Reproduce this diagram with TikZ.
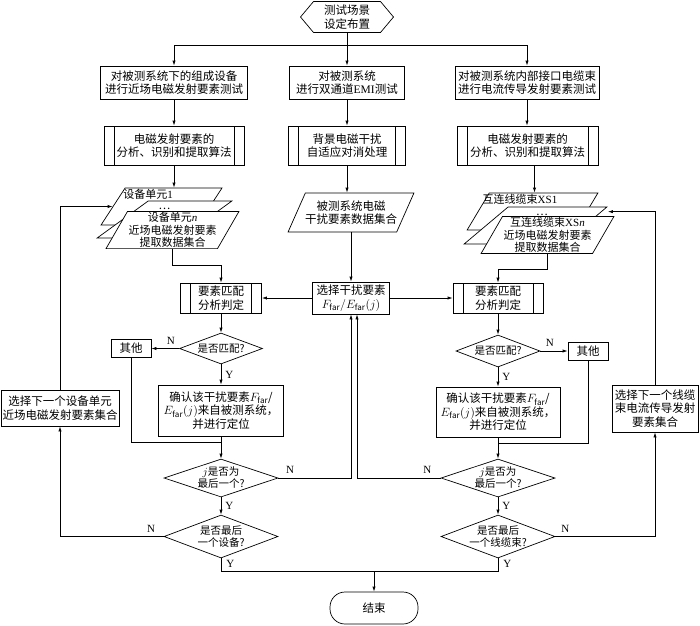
\documentclass[tikz,border=0pt]{standalone}
\usepackage{fontspec}
\setmainfont{Noto Sans CJK SC}
\newfontfamily\lat{Liberation Serif}
\usetikzlibrary{arrows.meta,shapes.geometric,shapes.symbols}

\begin{document}
\begin{tikzpicture}[x=1pt, y=-1pt, line width=0.7pt,
    font=\fontsize{11.5}{13.5}\selectfont,
    box/.style={draw, rectangle, fill=white, align=center, inner sep=1pt},
    proc/.style={box, path picture={
        \draw ([xshift=10pt]path picture bounding box.north west) -- ([xshift=10pt]path picture bounding box.south west)
              ([xshift=-10pt]path picture bounding box.north east) -- ([xshift=-10pt]path picture bounding box.south east);}},
    data/.style={draw, fill=white, trapezium, trapezium left angle=60, trapezium right angle=120,
        trapezium stretches=true, align=center, inner xsep=1pt, inner ysep=1pt,
        font=\fontsize{11}{12.5}\selectfont},
    sheet/.style={data, text height=9pt, text depth=26pt, inner xsep=-6pt},
    dots/.style={data, text height=7pt, text depth=28pt},
    ask/.style={draw, diamond, fill=white, aspect=2.6, inner sep=-3pt, align=center,
        font=\fontsize{10.5}{12}\selectfont},
    arr/.style={-{Latex[length=5pt,width=3.2pt]}},
    yn/.style={font=\lat\fontsize{11}{12}\selectfont, inner sep=1pt}]

\useasboundingbox (0,0) rectangle (700,625);

% Start of the test
\node[draw, fill=white, signal, signal to=east and west, signal pointer angle=100,
      minimum width=93pt, minimum height=31pt, align=center, inner sep=0pt] (st) at (347,17) {测试场景\\设定布置};
\coordinate (top) at (347,45);

% Three test branches
\node[box, minimum width=147pt, minimum height=33pt] (t1) at (174,82.5) {对被测系统下的组成设备\\进行近场电磁发射要素测试};
\node[box, minimum width=115pt, minimum height=33pt] (t2) at (347,82.5) {对被测系统\\进行双通道{\lat EMI}测试};
\node[box, minimum width=144pt, minimum height=33pt] (t3) at (527,82.5) {对被测系统内部接口电缆束\\进行电流传导发射要素测试};

\node[proc, minimum width=140pt, minimum height=39pt] (p1) at (174,145.5) {电磁发射要素的\\分析、识别和提取算法};
\node[proc, minimum width=117pt, minimum height=39pt] (p2) at (347,145.5) {背景电磁干扰\\自适应对消处理};
\node[proc, minimum width=141pt, minimum height=39pt] (p3) at (527.5,145.5) {电磁发射要素的\\分析、识别和提取算法};

% Data sets (stacked on the sides)
\node[data, minimum width=126pt, minimum height=39pt, inner xsep=-6pt,
      font=\fontsize{11.5}{13.5}\selectfont] (d2) at (351,212.5) {被测系统电磁\\干扰要素数据集合};

\node[sheet, minimum width=121pt, minimum height=37pt] (s1) at (161.5,206.5) {设备单元{\lat 1}\hspace*{27pt}};
\node[dots, minimum width=135pt, minimum height=37pt] (s2) at (164.5,219.5) {\ldots};
\node[data, minimum width=131pt, minimum height=36pt] (s3) at (172.5,230) {设备单元{\lat\textit{n}}\\近场电磁发射要素\\提取数据集合};

\node[sheet, minimum width=131pt, minimum height=37pt, inner xsep=-8pt] (r1) at (532.5,211.5) {互连线缆束{\lat XS1}\hspace*{25pt}};
\node[dots, minimum width=143pt, minimum height=37pt] (r2) at (535.5,225.5) {\hspace*{13pt}\ldots};
\node[data, minimum width=131pt, minimum height=36pt] (r3) at (547.5,235) {互连线缆束{\lat XS\textit{n}}\\近场电磁发射要素\\提取数据集合};

% Matching
\node[proc, minimum width=81pt, minimum height=30pt] (m1) at (221,298) {要素匹配\\分析判定};
\node[box, minimum width=77pt, minimum height=32pt] (sel) at (351,298) {选择干扰要素\\$F_{\mathrm{far}}/E_{\mathrm{far}}(j)$};
\node[proc, minimum width=90pt, minimum height=30pt] (m2) at (498,298) {要素匹配\\分析判定};

% Left decisions
\node[ask, minimum width=83pt, minimum height=31pt] (q1) at (221,348.5) {是否匹配?};
\node[box, minimum width=40pt, minimum height=18pt] (o1) at (131,348.5) {其他};
\node[box, minimum width=125pt, minimum height=51pt] (c1) at (221,410.5) {确认该干扰要素$F_{\mathrm{far}}$/\\$E_{\mathrm{far}}(j)$来自被测系统，\\并进行定位};
\node[ask, minimum width=114pt, minimum height=38pt] (j1) at (221,478) {$j$是否为\\最后一个?};
\node[ask, minimum width=114pt, minimum height=43pt] (e1) at (221,536.5) {是否最后\\一个设备?};
\node[box, minimum width=118pt, minimum height=36pt] (nx1) at (60,408) {选择下一个设备单元\\近场电磁发射要素集合};

% Right decisions
\node[ask, minimum width=84pt, minimum height=32pt] (q2) at (498,351) {是否匹配?};
\node[box, minimum width=40pt, minimum height=18pt] (o2) at (588,351) {其他};
\node[box, minimum width=124pt, minimum height=50pt] (c2) at (498,412) {确认该干扰要素$F_{\mathrm{far}}$/\\$E_{\mathrm{far}}(j)$来自被测系统，\\并进行定位};
\node[ask, minimum width=114pt, minimum height=38pt] (j2) at (498,478) {$j$是否为\\最后一个?};
\node[ask, minimum width=114pt, minimum height=43pt] (e2) at (498,536.5) {是否最后\\一个线缆束?};
\node[box, minimum width=86pt, minimum height=47pt] (nx2) at (655,408.5) {选择下一个线缆\\束电流传导发射\\要素集合};

% End
\coordinate (bot) at (374,571);
\node[box, rounded corners=15pt, minimum width=88pt, minimum height=32pt] (ed) at (374,608) {结束};

% Connectors
\draw (st.south) -- (top);
\foreach \dst in {t1, t2, t3}
  \draw[arr] (top) -| (\dst);

\foreach \src/\dst in {t1/p1, t2/p2, t3/p3, p1/s1, p2/d2, m1/q1, m2/q2, c1/j1, c2/j2}
  \draw[arr] (\src.south) -- (\src.south |- \dst.north);
\draw[arr] ([xshift=7pt]p3.south) -- ([xshift=7pt]p3.south |- r1.north);
\draw[arr] (d2.center |- d2.south) -- (sel.north);

\draw[arr] (s3.center |- s3.south) -- ++(0,16) -| (m1.north);
\draw[arr] (r3.center |- r3.south) -- ++(0,15) -| (m2.north);
\draw[arr] (sel.west) -- (m1.east);
\draw[arr] (sel.east) -- (m2.west);

\foreach \src/\dst in {q1/c1, j1/e1, q2/c2, j2/e2}
  \draw[arr] (\src.south) -- (\src.south |- \dst.north) node[yn, midway, right=3pt] {Y};

\draw[arr] (q1.west) -- (o1.east) node[yn, pos=0.3, above=3pt] {N};
\draw[arr] (q2.east) -- (o2.west) node[yn, pos=0.35, above=3pt] {N};
\draw (o1.south) |- ([yshift=-6pt]c1.south);
\draw (o2.south) |- ([yshift=-6pt]c2.south);

\draw[arr] (j1.east) -| (sel.south) node[yn, pos=0.08, above=3pt] {N};
\draw[arr] (j2.west) -| ([xshift=6pt]sel.south) node[yn, pos=0.08, above=3pt] {N};

\draw[arr] (e1.west) -| (nx1.south) node[yn, pos=0.06, above=3pt] {N};
\draw[arr] (nx1.north) |- (s1.left side);
\draw[arr] (e2.east) -| (nx2.south) node[yn, pos=0.05, above=3pt] {N};
\draw[arr] (nx2.north) |- ([yshift=-5pt]r2.top right corner);

\draw (e1.south) |- (bot) node[yn, pos=0.2, right=4pt] {Y};
\draw (e2.south) |- (bot) node[yn, pos=0.2, right=4pt] {Y};
\draw[arr] (bot) -- (ed);

\end{tikzpicture}
\end{document}
